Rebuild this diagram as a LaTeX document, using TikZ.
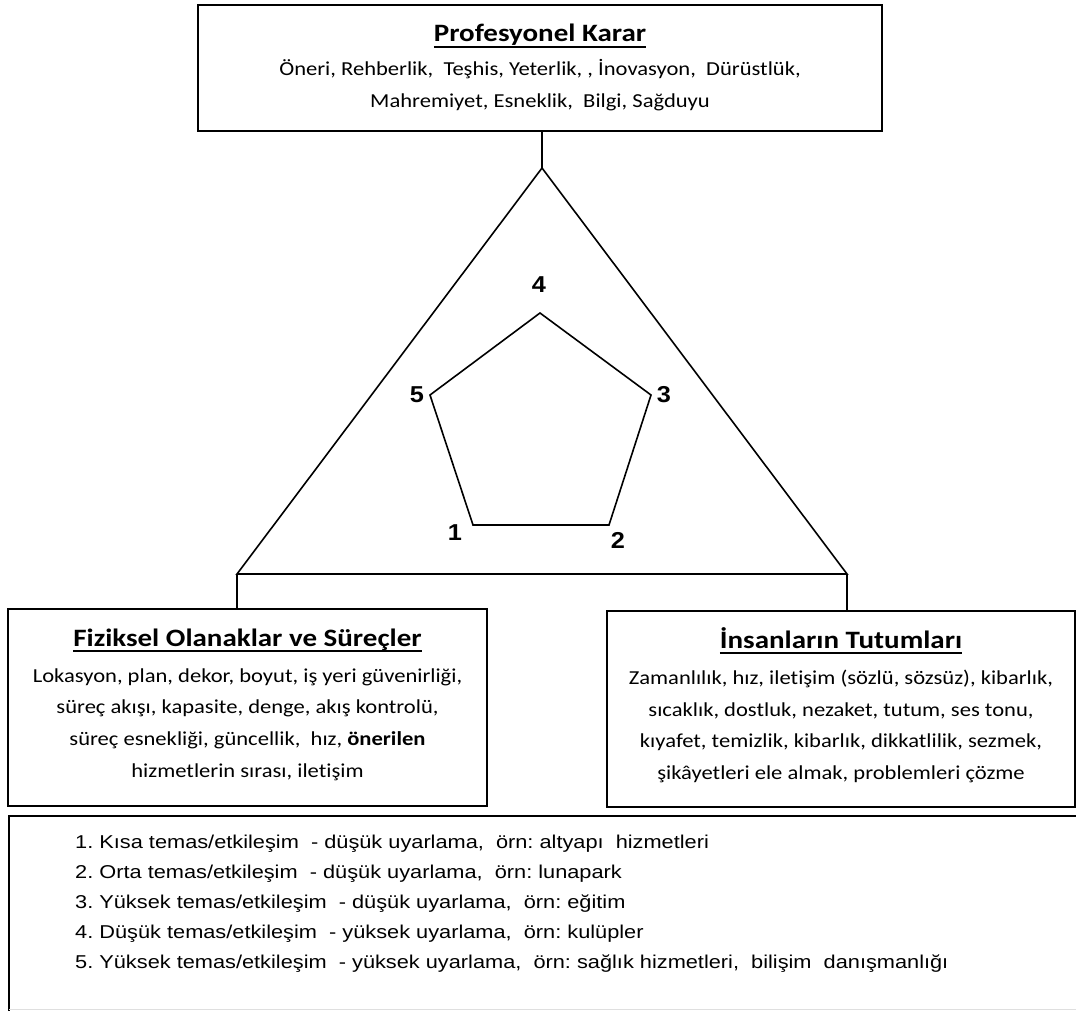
\documentclass[tikz,border=0pt]{standalone}
\usepackage{fontspec}
\setmainfont[FakeStretch=1.14,Ligatures=NoCommon]{Carlito}
\newfontfamily\ttlfont[FakeStretch=1.16,Ligatures=NoCommon]{Carlito}
\newfontfamily\arialf[FakeStretch=1.17]{Liberation Sans}
\newfontfamily\numfont[FakeStretch=1.1]{Liberation Sans}
\newcommand\myul[1]{\setbox0=\hbox{#1}\rlap{\copy0}\rule[-6pt]{\wd0}{2.4pt}}
\frenchspacing
\begin{document}
\begin{tikzpicture}[x=1pt,y=-1pt,
  box/.style={draw, line width=1.8pt, inner sep=0pt},
  ln/.style={line width=1.6pt, line join=miter},
  ttl/.style={anchor=base, inner sep=0pt, font=\ttlfont\fontsize{25}{30}\selectfont\bfseries},
  txt/.style={anchor=base, inner sep=0pt, font=\fontsize{19.8}{24}\selectfont},
  lst/.style={anchor=base west, inner sep=0pt, font=\arialf\fontsize{18.6}{22}\selectfont},
  num/.style={inner sep=0pt, font=\numfont\fontsize{23}{27}\selectfont\bfseries}]
\useasboundingbox (0,0) rectangle (1076,1011);
\fill[white] (0,0) rectangle (1076,1011);

% boxes
\node[box, minimum width=684pt, minimum height=126pt] (top) at (540,68) {};
\node[box, minimum width=479pt, minimum height=197pt] (left) at (247.5,707.5) {};
\node[box, minimum width=468pt, minimum height=196pt] (right) at (841,709) {};

% triangle and connectors
\coordinate (apex) at (542,168);
\coordinate (bl) at (237,574);
\coordinate (br) at (847,574);
\draw[ln] (apex) -- (bl) -- (br) -- cycle;
\draw[ln] (top.south -| apex) -- (apex);
\draw[ln] (bl) -- (bl |- left.north);
\draw[ln] (br) -- (br |- right.north);

% pentagon
\coordinate (p1) at (473,525);
\coordinate (p2) at (609,525);
\coordinate (p3) at (651,395);
\coordinate (p4) at (540,313);
\coordinate (p5) at (430,395);
\draw[ln] (p1) -- (p2) -- (p3) -- (p4) -- (p5) -- cycle;
\node[num] (n1) at (455,533) {1};
\node[num] (n2) at (618,540) {2};
\node[num] (n3) at (664,395) {3};
\node[num] (n4) at (539,285) {4};
\node[num] (n5) at (417,395) {5};

% top box text
\node[ttl] (t0) at (540,42) {\myul{Profesyonel Karar}};
\node[txt] (t1) at (540,76) {Öneri, Rehberlik,\ \ Teşhis, Yeterlik, , İnovasyon,\ \ Dürüstlük,};
\node[txt] (t2) at (540,108) {Mahremiyet, Esneklik,\ \ Bilgi, Sağduyu};

% left box text
\node[ttl] (f0) at (247.5,646) {\myul{Fiziksel Olanaklar ve Süreçler}};
\node[txt] (f1) at (247.5,682) {Lokasyon, plan, dekor, boyut, iş yeri güvenirliği,};
\node[txt] (f2) at (247.5,713) {süreç akışı, kapasite, denge, akış kontrolü,};
\node[txt] (f3) at (247.5,745) {süreç esnekliği, güncellik,\ \ hız, \textbf{önerilen}};
\node[txt] (f4) at (247.5,777) {hizmetlerin sırası, iletişim};

% right box text
\node[ttl] (r0) at (841,648) {\myul{İnsanların Tutumları}};
\node[txt] (r1) at (841,684) {Zamanlılık, hız, iletişim (sözlü, sözsüz), kibarlık,};
\node[txt] (r2) at (841,716) {sıcaklık, dostluk, nezaket, tutum, ses tonu,};
\node[txt] (r3) at (841,747) {kıyafet, temizlik, kibarlık, dikkatlilik, sezmek,};
\node[txt] (r4) at (841,779) {şikâyetleri ele almak, problemleri çözme};

% bottom box
\draw[ln] (1076,816) -- (9,816) -- (9,1011);
\draw[gray!25, line width=1pt] (9,1009.5) -- (1076,1009.5);
\node[lst] (l1) at (75,848) {1. Kısa temas/etkileşim\ \ - düşük uyarlama,\ \ örn: altyapı\ \ hizmetleri};
\node[lst] (l2) at (75,878) {2. Orta temas/etkileşim\ \ - düşük uyarlama,\ \ örn: lunapark};
\node[lst] (l3) at (75,908) {3. Yüksek temas/etkileşim\ \ - düşük uyarlama,\ \ örn: eğitim};
\node[lst] (l4) at (75,938) {4. Düşük temas/etkileşim\ \ - yüksek uyarlama,\ \ örn: kulüpler};
\node[lst] (l5) at (75,968) {5. Yüksek temas/etkileşim\ \ - yüksek uyarlama,\ \ örn: sağlık hizmetleri,\ \ bilişim\ \ danışmanlığı};
\end{tikzpicture}
\end{document}
